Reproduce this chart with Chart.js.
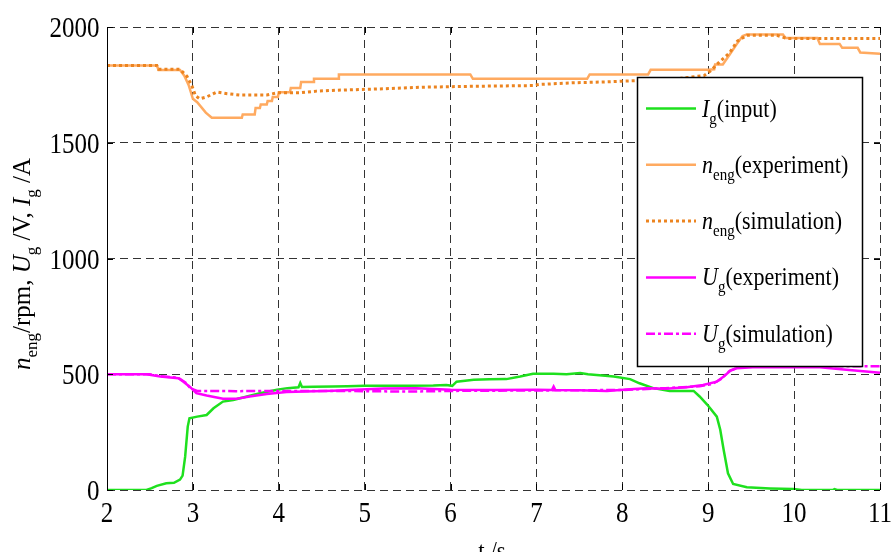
<!DOCTYPE html>
<html>
<head>
<meta charset="utf-8">
<script src="https://cdn.jsdelivr.net/npm/chart.js@4.4.1/dist/chart.umd.min.js"></script>
<style>
  html, body { margin: 0; padding: 0; background: #fff; }
  #wrap { width: 892px; height: 552px; position: relative; }
</style>
</head>
<body>
<div id="wrap"><canvas id="c" width="892" height="552"></canvas></div>
<script>
// Generator current I_g (input), A
const tIg = [2, 2.46, 2.52, 2.58, 2.69, 2.78, 2.85, 2.88, 2.91, 2.94, 2.96, 3.05, 3.16, 3.24, 3.35, 3.47, 3.63, 3.78, 3.98, 4.1, 4.23, 4.25, 4.27, 4.4, 4.63, 4.8, 5.0, 5.22, 5.5, 5.8, 5.95, 6.02, 6.07, 6.27, 6.45, 6.65, 6.81, 6.96, 7.2, 7.35, 7.51, 7.6, 7.7, 7.9, 8.09, 8.2, 8.36, 8.55, 8.83, 8.9, 8.99, 9.1, 9.14, 9.18, 9.23, 9.29, 9.45, 9.72, 9.99, 10.09, 10.45, 10.47, 10.5, 11];
const vIg = [0, 0, 8, 18, 29, 31, 45, 62, 144, 274, 310, 317, 324, 353, 382, 389, 404, 418, 433, 440, 444, 462, 445, 446, 447, 448, 450, 450, 450, 451, 454, 450, 468, 476, 478, 479, 490, 502, 502, 500, 505, 500, 497, 490, 479, 461, 440, 428, 428, 404, 368, 317, 260, 173, 72, 26, 12, 7, 4, 0, 0, 4, 0, 0];

// Engine speed n_eng (experiment), rpm
const tNExp = [2, 2.58, 2.6, 2.85, 2.9, 2.95, 3.0, 3.05, 3.15, 3.22, 3.57, 3.58, 3.72, 3.73, 3.78, 3.79, 3.86, 3.87, 3.92, 3.93, 3.99, 4.0, 4.13, 4.14, 4.25, 4.26, 4.40, 4.41, 4.69, 4.70, 6.23, 6.26, 7.59, 7.62, 8.3, 8.33, 9.0, 9.07, 9.08, 9.17, 9.25, 9.33, 9.40, 9.45, 9.87, 9.9, 10.27, 10.3, 10.53, 10.56, 10.74, 10.77, 11];
const vNExp = [1834, 1834, 1814, 1814, 1790, 1750, 1690, 1675, 1630, 1608, 1608, 1622, 1622, 1650, 1650, 1665, 1665, 1680, 1680, 1698, 1698, 1718, 1718, 1737, 1737, 1762, 1762, 1776, 1776, 1795, 1795, 1776, 1776, 1795, 1795, 1815, 1815, 1817, 1838, 1838, 1881, 1925, 1961, 1968, 1968, 1953, 1953, 1927, 1927, 1910, 1910, 1890, 1884];

// Engine speed n_eng (simulation), rpm
const tNSim = [2, 2.58, 2.6, 2.85, 2.93, 2.99, 3.03, 3.08, 3.16, 3.28, 3.40, 3.55, 3.86, 3.98, 4.25, 4.44, 4.69, 5.29, 5.68, 6.26, 6.96, 7.04, 7.43, 7.82, 8.2, 8.6, 8.95, 9.02, 9.1, 9.25, 9.34, 9.45, 9.8, 9.92, 11];
const vNSim = [1834, 1834, 1817, 1817, 1788, 1745, 1703, 1690, 1698, 1719, 1712, 1706, 1706, 1716, 1716, 1723, 1727, 1734, 1740, 1744, 1747, 1752, 1759, 1763, 1769, 1775, 1790, 1808, 1838, 1889, 1939, 1964, 1964, 1950, 1950];

// Generator voltage U_g (experiment), V
const tUExp = [2, 2.46, 2.62, 2.83, 2.89, 2.97, 3.04, 3.16, 3.35, 3.51, 3.66, 3.86, 4.09, 4.63, 5.22, 5.6, 6.0, 6.5, 7.0, 7.18, 7.2, 7.22, 7.5, 7.82, 8.09, 8.28, 8.5, 8.75, 8.94, 9.1, 9.18, 9.26, 9.33, 9.52, 10.3, 10.61, 11];
const vUExp = [500, 500, 490, 483, 468, 444, 418, 408, 394, 394, 404, 415, 423, 429, 438, 440, 433, 432, 433, 432, 447, 432, 431, 428, 435, 440, 437, 444, 454, 468, 490, 516, 526, 530, 530, 519, 507];

// Generator voltage U_g (simulation), V
const tUSim = [2, 2.5, 2.62, 2.83, 2.92, 2.97, 3.05, 3.2, 3.5, 4.0, 5.0, 5.5, 6.0, 7.0, 8.0, 8.5, 8.9, 9.05, 9.15, 9.25, 9.35, 9.5, 11];
const vUSim = [500, 500, 492, 485, 462, 440, 428, 428, 427, 428, 427, 425, 428, 430, 432, 440, 448, 458, 480, 515, 530, 535, 535];

// Axis ticks
const xTickValues = [2, 3, 4, 5, 6, 7, 8, 9, 10, 11];
const xTickLabels = ['2', '3', '4', '5', '6', '7', '8', '9', '10', '11'];
const yTickValues = [0, 500, 1000, 1500, 2000];
const yTickLabels = ['0', '500', '1000', '1500', '2000'];

// Legend entries: italic symbol, subscript, description
const legendSymbols = ['I', 'n', 'n', 'U', 'U'];
const legendSubs = ['g', 'eng', 'eng', 'g', 'g'];
const legendTexts = ['(input)', '(experiment)', '(simulation)', '(experiment)', '(simulation)'];

const SERIF = '"Liberation Serif", "Times New Roman", serif';
const TALL = 1.18; // glyphs of the figure's lettering are drawn slightly tall
const pts = (ts, vs) => ts.map((t, i) => ({ x: t, y: vs[i] }));

const styles = [
  { color: '#1ee01e', width: 2.5, dash: [] },
  { color: '#ffaa60', width: 2.5, dash: [] },
  { color: '#ec8420', width: 3, dash: [3, 3] },
  { color: '#ff00ff', width: 2.5, dash: [] },
  { color: '#ff00ff', width: 2.5, dash: [9, 3, 3, 3] }
];

const seriesData = [pts(tIg, vIg), pts(tNExp, vNExp), pts(tNSim, vNSim), pts(tUExp, vUExp), pts(tUSim, vUSim)];
const drawOrder = [4, 3, 2, 1, 0];

const datasets = seriesData.map((d, i) => ({
  label: legendSymbols[i] + legendSubs[i] + legendTexts[i],
  data: d,
  borderColor: styles[i].color,
  borderWidth: styles[i].width,
  borderDash: styles[i].dash,
  borderCapStyle: 'butt',
  pointRadius: 0,
  tension: 0,
  fill: false,
  order: drawOrder[i]
}));

// text drawn with a vertical stretch about its baseline
function tallText(ctx, str, x, y, k) {
  ctx.save();
  ctx.translate(x, y);
  ctx.scale(1, k);
  ctx.fillText(str, 0, 0);
  ctx.restore();
}

// Frame ticks, tick labels, left axis, legend box and axis titles
const decor = {
  id: 'decor',
  afterDraw(chart) {
    const ctx = chart.ctx;
    const a = chart.chartArea;
    const xs = chart.scales.x, ys = chart.scales.y;
    ctx.save();
    ctx.strokeStyle = '#000';
    ctx.lineWidth = 1;
    ctx.setLineDash([]);
    ctx.beginPath();
    const L = Math.round(a.left) + 0.5;
    ctx.moveTo(L, a.top); ctx.lineTo(L, a.bottom);
    xTickValues.forEach(v => {
      const px = Math.round(xs.getPixelForValue(v)) + 0.5;
      ctx.moveTo(px, a.bottom); ctx.lineTo(px, a.bottom - 6);
      ctx.moveTo(px, a.top); ctx.lineTo(px, a.top + 6);
    });
    yTickValues.forEach(v => {
      const py = Math.round(ys.getPixelForValue(v)) + 0.5;
      ctx.moveTo(a.left, py); ctx.lineTo(a.left + 6, py);
      ctx.moveTo(a.right, py); ctx.lineTo(a.right - 6, py);
    });
    ctx.stroke();

    // tick labels
    ctx.fillStyle = '#000';
    ctx.font = '25px ' + SERIF;
    ctx.textBaseline = 'alphabetic';
    ctx.textAlign = 'right';
    yTickValues.forEach((v, i) => {
      tallText(ctx, yTickLabels[i], a.left - 7.5, ys.getPixelForValue(v) + 10, TALL);
    });
    ctx.textAlign = 'center';
    xTickValues.forEach((v, i) => {
      tallText(ctx, xTickLabels[i], xs.getPixelForValue(v), a.bottom + 32, TALL);
    });

    // legend
    const bx = 637.5, by = 77.5, bw = 225, bh = 289;
    ctx.fillStyle = '#fff';
    ctx.fillRect(bx, by, bw, bh);
    ctx.lineWidth = 1.5;
    ctx.strokeStyle = '#000';
    ctx.strokeRect(bx, by, bw, bh);
    const F = 22, FS = 15, LK = 1.1;
    for (let i = 0; i < 5; i++) {
      const ly = 108.5 + i * 56.3;
      ctx.beginPath();
      ctx.strokeStyle = styles[i].color;
      ctx.lineWidth = styles[i].width;
      ctx.setLineDash(styles[i].dash);
      ctx.moveTo(646, ly); ctx.lineTo(696, ly);
      ctx.stroke();
      ctx.setLineDash([]);
      let x = 702;
      const base = ly + 8;
      ctx.fillStyle = '#000';
      ctx.textBaseline = 'alphabetic';
      ctx.textAlign = 'left';
      ctx.font = 'italic ' + F + 'px ' + SERIF;
      tallText(ctx, legendSymbols[i], x, base, LK);
      x += ctx.measureText(legendSymbols[i]).width;
      ctx.font = FS + 'px ' + SERIF;
      tallText(ctx, legendSubs[i], x, base + 7, LK);
      x += ctx.measureText(legendSubs[i]).width;
      ctx.font = F + 'px ' + SERIF;
      tallText(ctx, legendTexts[i], x, base, LK);
    }

    // x title
    ctx.font = '23px ' + SERIF;
    ctx.textAlign = 'center';
    tallText(ctx, 't /s', 492, 559, 1.1);

    // y title, rotated
    const YF = 25, YS = 17;
    const parts = [
      ['italic', YF, 'n', 0], ['', YS, 'eng', 7], ['', YF, '/rpm, ', 0],
      ['italic', YF, 'U', 0], ['', YS, 'g', 7], ['', YF, ' /V, ', 0],
      ['italic', YF, 'I', 0], ['', YS, 'g', 7], ['', YF, ' /A', 0]
    ];
    let total = 0;
    parts.forEach(p => { ctx.font = (p[0] ? p[0] + ' ' : '') + p[1] + 'px ' + SERIF; total += ctx.measureText(p[2]).width; });
    ctx.translate(30, 264);
    ctx.rotate(-Math.PI / 2);
    ctx.textAlign = 'left';
    let px = -total / 2;
    parts.forEach(p => {
      ctx.font = (p[0] ? p[0] + ' ' : '') + p[1] + 'px ' + SERIF;
      ctx.fillText(p[2], px, p[3]);
      px += ctx.measureText(p[2]).width;
    });
    ctx.restore();
  }
};

new Chart(document.getElementById('c'), {
  type: 'line',
  data: { datasets },
  options: {
    responsive: false,
    animation: false,
    devicePixelRatio: 1,
    layout: { padding: { top: 27, right: 12, left: 0, bottom: 0 } },
    plugins: { legend: { display: false }, tooltip: { enabled: false }, title: { display: false } },
    scales: {
      x: {
        type: 'linear', min: 2, max: 11,
        afterBuildTicks: s => { s.ticks = xTickValues.map(v => ({ value: v })); },
        afterFit: s => { s.height = 62; },
        ticks: { display: false },
        grid: { color: '#333', lineWidth: 1, drawTicks: false },
        border: { display: false, dash: [8, 5] }
      },
      y: {
        type: 'linear', min: 0, max: 2000,
        afterBuildTicks: s => { s.ticks = yTickValues.map(v => ({ value: v })); },
        afterFit: s => { s.width = 107; },
        ticks: { display: false },
        grid: { color: '#333', lineWidth: 1, drawTicks: false },
        border: { display: false, dash: [8, 5] }
      }
    }
  },
  plugins: [decor]
});
</script>
</body>
</html>
